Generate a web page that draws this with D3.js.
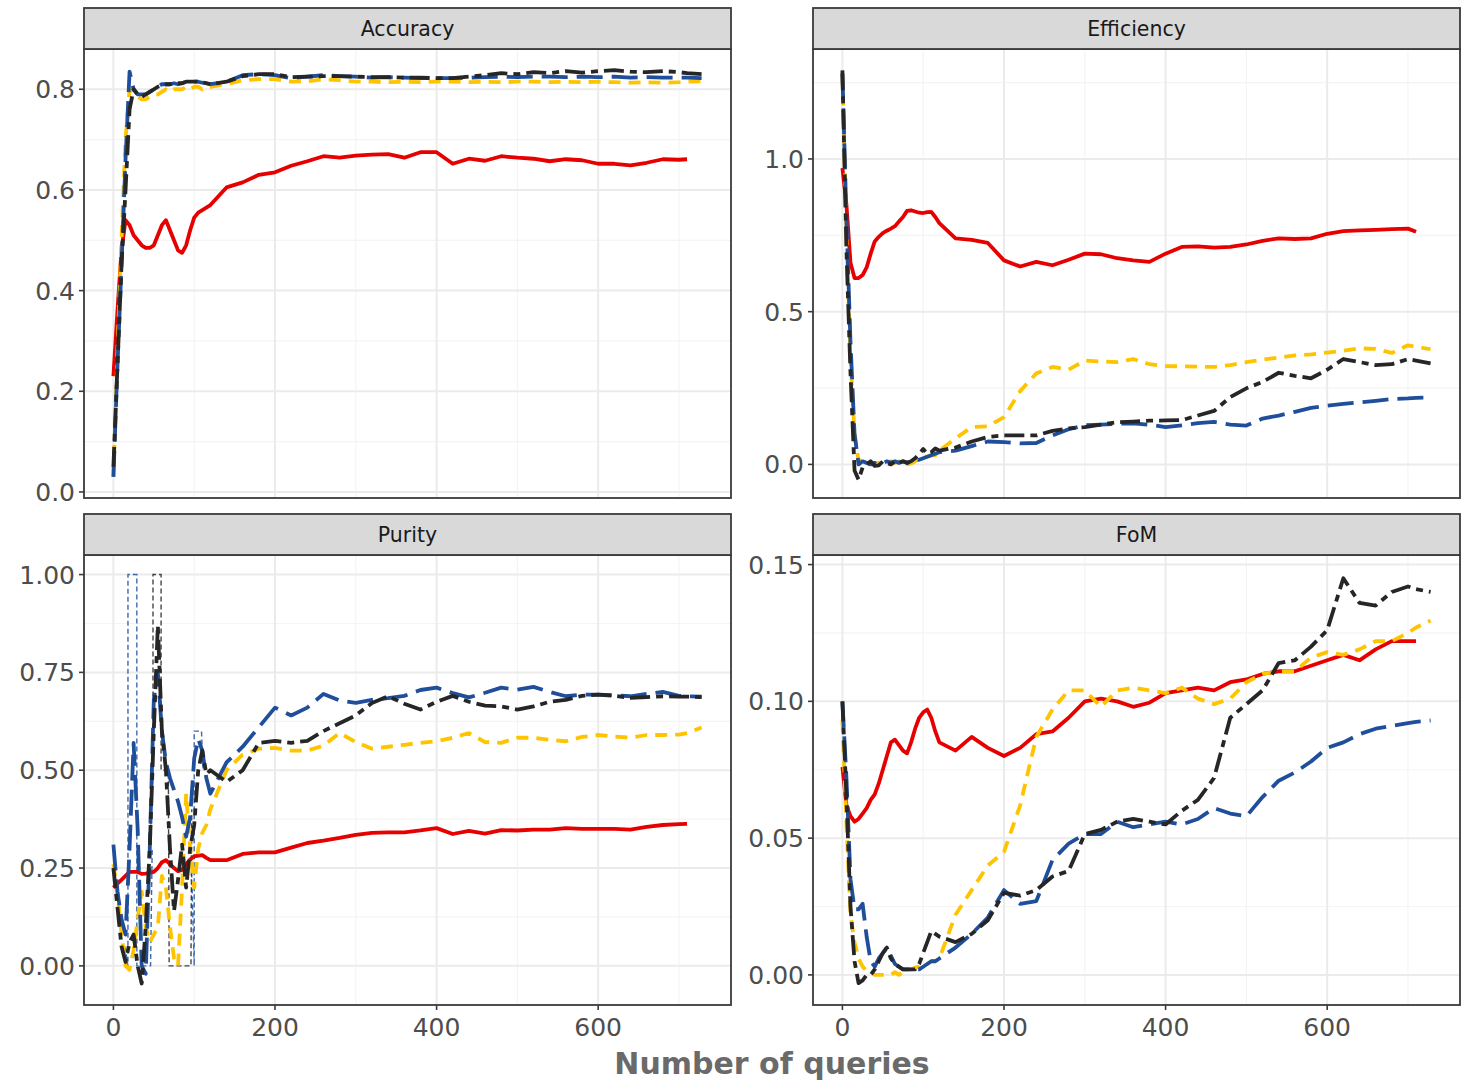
<!DOCTYPE html>
<html>
<head>
<meta charset="utf-8">
<script src="https://cdn.jsdelivr.net/npm/d3@7"></script>
<style>
  body { margin: 0; background: #fff; }
  svg { display: block; }
  text { font-family: 'DejaVu Sans', sans-serif; }
</style>
</head>
<body>
<div id="chart"></div>
<script>
// shared query grid (x values)
const queries = [0, 5, 10, 15, 20, 25, 30, 35, 40, 45, 50, 55, 60, 65, 70, 75, 80, 85, 90, 95, 100, 105, 110, 115, 120,
  140, 160, 180, 200, 220, 240, 260, 280, 300, 320, 340, 360, 380, 400, 420, 440, 460, 480, 500, 520, 540, 560, 580, 600, 620, 640, 660, 680, 700,
  710, 728];

// Accuracy
const accRed = [0.23, 0.36, 0.48, 0.54, 0.53, 0.51, 0.50, 0.49, 0.485, 0.485, 0.49, 0.51, 0.53, 0.54, 0.52, 0.50, 0.48, 0.475, 0.49, 0.52, 0.545, 0.555, 0.56, 0.565, 0.57,
  0.605, 0.615, 0.63, 0.635, 0.648, 0.657, 0.667, 0.664, 0.668, 0.670, 0.671, 0.664, 0.675, 0.675, 0.652, 0.662, 0.658, 0.667, 0.664, 0.662, 0.657, 0.661, 0.659, 0.652, 0.652, 0.649, 0.654, 0.661, 0.660,
  0.661, null];
const accYellow = [0.03, 0.28, 0.5, 0.7, 0.80, 0.79, 0.785, 0.78, 0.78, 0.785, 0.79, 0.79, 0.795, 0.80, 0.795, 0.80, 0.80, 0.80, 0.805, 0.80, 0.805, 0.805, 0.80, 0.805, 0.805,
  0.81, 0.818, 0.82, 0.82, 0.815, 0.816, 0.82, 0.818, 0.815, 0.815, 0.814, 0.815, 0.814, 0.815, 0.815, 0.814, 0.815, 0.814, 0.815, 0.815, 0.814, 0.815, 0.814, 0.815, 0.814, 0.813, 0.814, 0.813, 0.814,
  0.815, 0.816];
const accBlue = [0.03, 0.25, 0.45, 0.66, 0.835, 0.80, 0.79, 0.79, 0.79, 0.795, 0.80, 0.805, 0.81, 0.81, 0.81, 0.812, 0.81, 0.812, 0.815, 0.815, 0.815, 0.815, 0.813, 0.812, 0.81,
  0.815, 0.828, 0.83, 0.828, 0.822, 0.825, 0.828, 0.826, 0.825, 0.823, 0.824, 0.823, 0.822, 0.822, 0.822, 0.823, 0.824, 0.825, 0.824, 0.825, 0.825, 0.824, 0.825, 0.824, 0.825, 0.823, 0.824, 0.823, 0.823,
  0.823, 0.822];
const accBlack = [0.05, 0.25, 0.45, 0.6, 0.76, 0.80, 0.79, 0.785, 0.79, 0.795, 0.80, 0.805, 0.808, 0.81, 0.81, 0.812, 0.812, 0.812, 0.815, 0.815, 0.815, 0.815, 0.814, 0.812, 0.81,
  0.815, 0.826, 0.83, 0.83, 0.824, 0.825, 0.826, 0.826, 0.825, 0.824, 0.824, 0.823, 0.823, 0.822, 0.822, 0.825, 0.828, 0.832, 0.83, 0.834, 0.832, 0.836, 0.833, 0.836, 0.838, 0.835, 0.834, 0.836, 0.834,
  0.832, 0.83];

// Efficiency
const effRed = [0.97, 0.85, 0.66, 0.61, 0.61, 0.62, 0.645, 0.69, 0.73, 0.745, 0.757, 0.765, 0.772, 0.78, 0.795, 0.81, 0.83, 0.832, 0.828, 0.824, 0.823, 0.826, 0.827, 0.81, 0.79,
  0.74, 0.735, 0.725, 0.668, 0.648, 0.663, 0.652, 0.67, 0.69, 0.688, 0.675, 0.668, 0.663, 0.69, 0.712, 0.714, 0.71, 0.712, 0.72, 0.732, 0.74, 0.738, 0.74, 0.755, 0.764, 0.766, 0.768, 0.77, 0.772,
  0.762, null];
const effYellow = [1.28, 0.75, 0.35, 0.1, 0.01, 0.015, 0.01, 0.005, 0.0, 0.005, 0.0, 0.005, 0.01, 0.005, 0.01, 0.005, 0.0, 0.003, 0.01, 0.02, 0.025, 0.025, 0.03, 0.03, 0.045,
  0.085, 0.122, 0.125, 0.155, 0.24, 0.298, 0.319, 0.31, 0.34, 0.337, 0.335, 0.345, 0.328, 0.322, 0.321, 0.32, 0.319, 0.325, 0.335, 0.343, 0.35, 0.357, 0.36, 0.366, 0.372, 0.38, 0.378, 0.365, 0.39,
  0.385, 0.377];
const effBlue = [1.28, 0.8, 0.4, 0.1, 0.0, 0.01, 0.005, 0.0, 0.005, 0.0, 0.005, 0.01, 0.005, 0.01, 0.005, 0.01, 0.005, 0.01, 0.015, 0.015, 0.02, 0.025, 0.03, 0.035, 0.04,
  0.045, 0.06, 0.075, 0.073, 0.069, 0.07, 0.095, 0.115, 0.128, 0.13, 0.133, 0.134, 0.13, 0.122, 0.128, 0.135, 0.139, 0.13, 0.127, 0.15, 0.16, 0.172, 0.185, 0.192, 0.198, 0.203, 0.208, 0.214, 0.216,
  0.218, 0.219];
const effBlack = [1.29, 0.7, 0.3, -0.02, -0.05, -0.01, 0.0, 0.01, -0.005, -0.003, 0.01, 0.005, 0.0, 0.01, 0.005, 0.01, 0.005, 0.01, 0.02, 0.035, 0.05, 0.035, 0.04, 0.052, 0.045,
  0.055, 0.075, 0.09, 0.095, 0.095, 0.095, 0.11, 0.118, 0.122, 0.13, 0.138, 0.14, 0.143, 0.144, 0.145, 0.16, 0.175, 0.22, 0.249, 0.27, 0.3, 0.29, 0.282, 0.31, 0.345, 0.335, 0.325, 0.328, 0.345,
  0.34, 0.331];

// Purity
const purRed = [0.20, 0.21, 0.22, 0.23, 0.24, 0.24, 0.24, 0.235, 0.236, 0.238, 0.24, 0.25, 0.265, 0.27, 0.26, 0.25, 0.242, 0.245, 0.26, 0.272, 0.28, 0.282, 0.283, 0.276, 0.27,
  0.27, 0.286, 0.29, 0.29, 0.302, 0.314, 0.32, 0.327, 0.335, 0.34, 0.341, 0.341, 0.346, 0.352, 0.337, 0.345, 0.338, 0.347, 0.346, 0.348, 0.348, 0.352, 0.35, 0.35, 0.35, 0.348, 0.355, 0.36, 0.362,
  0.363, null];
const purYellow = [0.26, 0.19, 0.08, 0.0, -0.01, 0.04, 0.12, 0.19, 0.1, 0.06, 0.08, 0.1, 0.23, 0.2, 0.1, 0.02, 0.0, 0.2, 0.44, 0.3, 0.2, 0.3, 0.34, 0.36, 0.4,
  0.5, 0.54, 0.555, 0.557, 0.55, 0.55, 0.563, 0.595, 0.572, 0.555, 0.56, 0.565, 0.57, 0.574, 0.583, 0.595, 0.572, 0.57, 0.583, 0.583, 0.578, 0.574, 0.585, 0.59, 0.586, 0.583, 0.59, 0.59, 0.591,
  0.595, 0.609];
const purBlue = [0.31, 0.19, 0.12, 0.08, 0.3, 0.57, 0.35, 0.0, -0.02, 0.3, 0.68, 0.75, 0.6, 0.52, 0.48, 0.45, 0.42, 0.38, 0.33, 0.38, 0.53, 0.58, 0.55, 0.48, 0.44,
  0.52, 0.56, 0.61, 0.66, 0.64, 0.66, 0.695, 0.678, 0.672, 0.68, 0.684, 0.69, 0.705, 0.711, 0.697, 0.686, 0.698, 0.711, 0.706, 0.713, 0.7, 0.689, 0.693, 0.693, 0.692, 0.689, 0.695, 0.7, 0.69,
  0.689, 0.688];
const purBlack = [0.25, 0.15, 0.05, 0.01, 0.06, 0.08, 0.0, -0.045, 0.1, 0.3, 0.6, 0.87, 0.6, 0.5, 0.3, 0.14, 0.22, 0.31, 0.2, 0.3, 0.36, 0.5, 0.55, 0.49, 0.5,
  0.47, 0.5, 0.57, 0.575, 0.57, 0.575, 0.6, 0.62, 0.64, 0.672, 0.689, 0.67, 0.655, 0.675, 0.69, 0.675, 0.665, 0.663, 0.655, 0.663, 0.675, 0.68, 0.69, 0.693, 0.69, 0.685, 0.687, 0.689, 0.688,
  0.688, 0.687];
// thin raw traces at the start of the purity panel
const purBlueRawQ = [14, 18, 18, 29, 29, 46, 48, null, 96, 100, 100, 109, 111];
const purBlueRawV = [0.05, 0.0, 1.0, 1.0, 0.0, 0.0, 0.3, null, 0.3, 0.0, 0.6, 0.6, 0.5];
const purBlackRawQ = [45, 49, 49, 59, 59, 68, 69, 96, 97];
const purBlackRawV = [0.3, 0.5, 1.0, 1.0, 0.5, 0.5, 0.0, 0.0, 0.4];

// FoM
const fomRed = [0.076, 0.062, 0.058, 0.056, 0.057, 0.059, 0.061, 0.064, 0.066, 0.07, 0.075, 0.08, 0.085, 0.086, 0.084, 0.082, 0.081, 0.085, 0.09, 0.094, 0.096, 0.097, 0.094, 0.089, 0.085,
  0.082, 0.087, 0.083, 0.08, 0.083, 0.088, 0.089, 0.094, 0.1, 0.101, 0.1, 0.098, 0.0995, 0.103, 0.104, 0.105, 0.104, 0.107, 0.108, 0.11, 0.111, 0.111, 0.113, 0.115, 0.117, 0.115, 0.119, 0.122, 0.122,
  0.122, null];
const fomYellow = [0.093, 0.055, 0.022, 0.012, 0.006, 0.003, 0.0015, 0.001, 0.0, 0.0, 0.0, 0.0, 0.0, 0.001, 0.0, 0.001, 0.002, 0.002, 0.0027, 0.003, 0.004, 0.004, 0.005, 0.005, 0.006,
  0.022, 0.031, 0.04, 0.045, 0.062, 0.087, 0.097, 0.104, 0.104, 0.098, 0.104, 0.105, 0.104, 0.103, 0.105, 0.101, 0.099, 0.101, 0.107, 0.11, 0.111, 0.111, 0.116, 0.118, 0.117, 0.119, 0.122, 0.122, 0.125,
  0.127, 0.1295];
const fomBlue = [0.10, 0.072, 0.035, 0.024, 0.024, 0.026, 0.014, 0.005, 0.003, 0.006, 0.008, 0.01, 0.007, 0.004, 0.003, 0.002, 0.002, 0.002, 0.002, 0.002, 0.003, 0.004, 0.005, 0.005, 0.006,
  0.01, 0.015, 0.021, 0.031, 0.026, 0.027, 0.042, 0.048, 0.0515, 0.0515, 0.056, 0.054, 0.055, 0.056, 0.055, 0.057, 0.061, 0.059, 0.058, 0.065, 0.071, 0.074, 0.078, 0.083, 0.085, 0.088, 0.09, 0.091, 0.092,
  0.0925, 0.093];
const fomBlack = [0.10, 0.065, 0.025, 0.005, -0.003, -0.002, 0.0, 0.0, 0.002, 0.005, 0.008, 0.01, 0.006, 0.004, 0.003, 0.002, 0.002, 0.002, 0.002, 0.004, 0.008, 0.012, 0.016, 0.015, 0.014,
  0.012, 0.015, 0.02, 0.03, 0.029, 0.031, 0.036, 0.038, 0.0515, 0.053, 0.056, 0.057, 0.056, 0.055, 0.06, 0.064, 0.072, 0.094, 0.099, 0.104, 0.114, 0.115, 0.12, 0.126, 0.145, 0.136, 0.135, 0.14, 0.142,
  0.141, 0.14];

// ticks
const xTicks = [0, 200, 400, 600];
const xMinor = [100, 300, 500, 700];
const accTicks = [0, 0.2, 0.4, 0.6, 0.8];
const effTicks = [0, 0.5, 1.0];
const purTicks = [0, 0.25, 0.5, 0.75, 1.0];
const fomTicks = [0, 0.05, 0.1, 0.15];

const lineColors = ['#E60000', '#FFC400', '#1F4E9B', '#262626'];
const lineDashes = [null, '12,8', '26,9', '20,6,7,6'];

const width = 1461,
  height = 1084;

const svg = d3
  .select('#chart')
  .append('svg')
  .attr('width', width)
  .attr('height', height);

const panels = [
  { name: 'Accuracy', x0: 84, x1: 731, y0: 49, y1: 498, dom: [-0.012, 0.88], ticks: accTicks, fmt: '.1f', series: [accRed, accYellow, accBlue, accBlack], xAxis: false },
  { name: 'Efficiency', x0: 813, x1: 1460, y0: 49, y1: 498, dom: [-0.11, 1.36], ticks: effTicks, fmt: '.1f', series: [effRed, effYellow, effBlue, effBlack], xAxis: false },
  { name: 'Purity', x0: 84, x1: 731, y0: 555, y1: 1005, dom: [-0.1, 1.05], ticks: purTicks, fmt: '.2f', series: [purRed, purYellow, purBlue, purBlack], xAxis: true,
    raw: [[purBlueRawQ, purBlueRawV, 2], [purBlackRawQ, purBlackRawV, 3]] },
  { name: 'FoM', x0: 813, x1: 1460, y0: 555, y1: 1005, dom: [-0.011, 0.1535], ticks: fomTicks, fmt: '.2f', series: [fomRed, fomYellow, fomBlue, fomBlack], xAxis: true }
];

panels.forEach((p, i) => drawPanel(p, i));

svg
  .append('text')
  .attr('x', (84 + 1460) / 2)
  .attr('y', 1074)
  .attr('text-anchor', 'middle')
  .style('font-size', '30px')
  .style('font-weight', 'bold')
  .style('fill', '#6a6a6a')
  .text('Number of queries');

function drawPanel(p, i) {
  const x = d3.scaleLinear().domain([-36.4, 764.4]).range([p.x0, p.x1]);
  const y = d3.scaleLinear().domain(p.dom).range([p.y1, p.y0]);
  const g = svg.append('g');

  const step = p.ticks[1] - p.ticks[0];
  const yMinor = [p.ticks[0] - step / 2]
    .concat(p.ticks.map(t => t + step / 2))
    .filter(t => t > p.dom[0] && t < p.dom[1]);

  // grid
  g.selectAll('.xminor').data(xMinor).enter().append('line')
    .attr('x1', d => x(d)).attr('x2', d => x(d))
    .attr('y1', p.y0).attr('y2', p.y1)
    .style('stroke', '#F4F4F4').style('stroke-width', 1.2);
  g.selectAll('.yminor').data(yMinor).enter().append('line')
    .attr('x1', p.x0).attr('x2', p.x1)
    .attr('y1', d => y(d)).attr('y2', d => y(d))
    .style('stroke', '#F4F4F4').style('stroke-width', 1.2);
  g.selectAll('.xmajor').data(xTicks).enter().append('line')
    .attr('x1', d => x(d)).attr('x2', d => x(d))
    .attr('y1', p.y0).attr('y2', p.y1)
    .style('stroke', '#EBEBEB').style('stroke-width', 2);
  g.selectAll('.ymajor').data(p.ticks).enter().append('line')
    .attr('x1', p.x0).attr('x2', p.x1)
    .attr('y1', d => y(d)).attr('y2', d => y(d))
    .style('stroke', '#EBEBEB').style('stroke-width', 2);

  const clipId = 'clip' + i;
  svg.append('clipPath').attr('id', clipId)
    .append('rect')
    .attr('x', p.x0).attr('y', p.y0)
    .attr('width', p.x1 - p.x0).attr('height', p.y1 - p.y0);

  const lines = g.append('g').attr('clip-path', `url(#${clipId})`);

  const line = d3.line()
    .defined(d => d[1] != null && d[0] != null)
    .x(d => x(d[0]))
    .y(d => y(d[1]));

  if (p.raw) {
    p.raw.forEach(([qs, vs, k]) => {
      lines.append('path')
        .datum(qs.map((q, j) => [q, vs[j]]))
        .attr('d', line)
        .style('fill', 'none')
        .style('stroke', lineColors[k])
        .style('stroke-width', 1.4)
        .style('stroke-dasharray', '5,3')
        .style('opacity', 0.85);
    });
  }

  p.series.forEach((vals, k) => {
    lines.append('path')
      .datum(queries.map((q, j) => [q, vals[j]]))
      .attr('d', line)
      .style('fill', 'none')
      .style('stroke', lineColors[k])
      .style('stroke-width', 3.8)
      .style('stroke-linejoin', 'round')
      .style('stroke-dasharray', lineDashes[k]);
  });

  // border
  g.append('rect')
    .attr('x', p.x0).attr('y', p.y0)
    .attr('width', p.x1 - p.x0).attr('height', p.y1 - p.y0)
    .style('fill', 'none').style('stroke', '#3a3a3a').style('stroke-width', 1.8);

  // strip
  const stripH = 41;
  g.append('rect')
    .attr('x', p.x0).attr('y', p.y0 - stripH)
    .attr('width', p.x1 - p.x0).attr('height', stripH)
    .style('fill', '#D9D9D9').style('stroke', '#3a3a3a').style('stroke-width', 1.8);
  g.append('text')
    .attr('x', (p.x0 + p.x1) / 2)
    .attr('y', p.y0 - stripH / 2)
    .attr('dy', '0.36em')
    .attr('text-anchor', 'middle')
    .style('font-size', '20.5px')
    .style('fill', '#1A1A1A')
    .text(p.name);

  // y axis
  const fmt = d3.format(p.fmt);
  g.selectAll('.ytick').data(p.ticks).enter().append('line')
    .attr('x1', p.x0 - 5).attr('x2', p.x0)
    .attr('y1', d => y(d)).attr('y2', d => y(d))
    .style('stroke', '#3a3a3a').style('stroke-width', 1.6);
  g.selectAll('.ylabel').data(p.ticks).enter().append('text')
    .attr('x', p.x0 - 9)
    .attr('y', d => y(d))
    .attr('dy', '0.36em')
    .attr('text-anchor', 'end')
    .style('font-size', '25px')
    .style('fill', '#4D4D4D')
    .text(d => fmt(d));

  // x axis (bottom row only)
  if (p.xAxis) {
    g.selectAll('.xtick').data(xTicks).enter().append('line')
      .attr('x1', d => x(d)).attr('x2', d => x(d))
      .attr('y1', p.y1).attr('y2', p.y1 + 5)
      .style('stroke', '#3a3a3a').style('stroke-width', 1.6);
    g.selectAll('.xlabel').data(xTicks).enter().append('text')
      .attr('x', d => x(d))
      .attr('y', p.y1 + 31)
      .attr('text-anchor', 'middle')
      .style('font-size', '25px')
      .style('fill', '#4D4D4D')
      .text(d => d);
  }
}
</script>
</body>
</html>
